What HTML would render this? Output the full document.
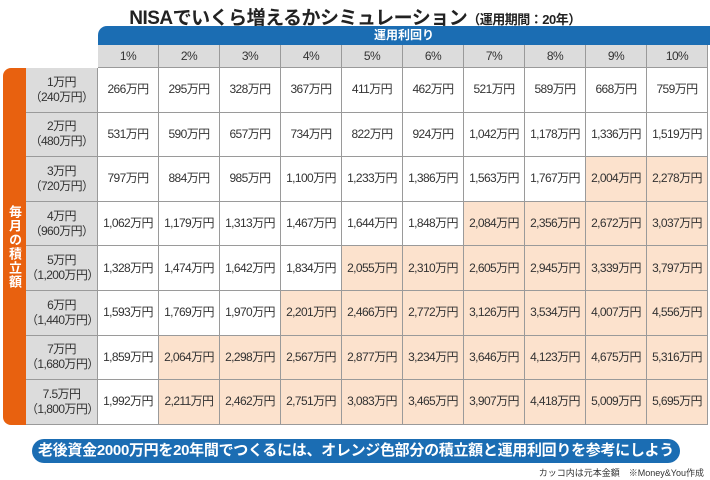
<!DOCTYPE html>
<html><head><meta charset="utf-8"><style>
body{margin:0;width:710px;height:480px;background:#fff;overflow:hidden;font-family:"Liberation Sans","Noto Sans CJK JP",sans-serif;position:relative}
.a{position:absolute;box-sizing:border-box}
.c{display:flex;align-items:center;justify-content:center;text-align:center;color:#333;font-size:12px;letter-spacing:-0.6px;line-height:15px;border-right:1px solid #9a9a9a;border-bottom:1px solid #9a9a9a}
</style></head><body>
<div class="a" style="left:0;top:3px;width:710px;text-align:center;font-size:19px;font-weight:bold;color:#222;letter-spacing:-0.5px">NISAでいくら増えるかシミュレーション<span style="font-size:13px">（運用期間：20年）</span></div>
<div class="a" style="left:98px;top:26px;width:612px;height:19px;background:#1b6db3;border-top-left-radius:9px;color:#fff;font-size:12px;font-weight:bold;text-align:center;line-height:19px">運用利回り</div>
<div class="a" style="left:3px;top:68px;width:23px;height:357px;background:#e8610f;border-radius:8px 0 0 8px;color:#fff;font-size:13px;font-weight:bold;display:flex;align-items:center;justify-content:center;writing-mode:vertical-rl;letter-spacing:1px">毎月の積立額</div>
<div id="grid"></div>
<div class="a" style="left:32px;top:439px;width:648px;height:24px;background:#1b6db3;border-radius:12px;color:#fff;font-size:15px;font-weight:bold;text-align:center;line-height:24px;letter-spacing:-0.3px">老後資金2000万円を20年間でつくるには、オレンジ色部分の積立額と運用利回りを参考にしよう</div>
<div class="a" style="right:6px;top:466px;font-size:9px;color:#333">カッコ内は元本金額　※Money&amp;You作成</div>
<script>
const rates=["1%","2%","3%","4%","5%","6%","7%","8%","9%","10%"];
const monthly=["1万円","2万円","3万円","4万円","5万円","6万円","7万円","7.5万円"];
const principal=["(240万円)","(480万円)","(720万円)","(960万円)","(1,200万円)","(1,440万円)","(1,680万円)","(1,800万円)"];
const r1=[266,295,328,367,411,462,521,589,668,759];
const r2=[531,590,657,734,822,924,1042,1178,1336,1519];
const r3=[797,884,985,1100,1233,1386,1563,1767,2004,2278];
const r4=[1062,1179,1313,1467,1644,1848,2084,2356,2672,3037];
const r5=[1328,1474,1642,1834,2055,2310,2605,2945,3339,3797];
const r6=[1593,1769,1970,2201,2466,2772,3126,3534,4007,4556];
const r7=[1859,2064,2298,2567,2877,3234,3646,4123,4675,5316];
const r8=[1992,2211,2462,2751,3083,3465,3907,4418,5009,5695];
const rows=[r1,r2,r3,r4,r5,r6,r7,r8];
const g=document.getElementById('grid');
const X0=98,CW=61,Y0=68,RH=44.6,HY=45,HH=23;
function cell(x,y,w,h,html,bg){const d=document.createElement('div');d.className='a c';d.style.cssText=`left:${x}px;top:${y}px;width:${w}px;height:${h}px;background:${bg}`;d.innerHTML=html;g.appendChild(d);return d;}
rates.forEach((r,i)=>{const d=cell(X0+i*CW,HY,CW,HH,r,'#dcdcdc');

});
rows.forEach((row,j)=>{
 const y=Y0+j*RH;
 const l=cell(26,y,72,RH,monthly[j]+'<br>'+principal[j].replace('(','（').replace(')','）'),'#dcdcdc');
 
 
 row.forEach((v,i)=>{
  const d=cell(X0+i*CW,y,CW,RH,v.toLocaleString('en-US')+'万円',v>=2000?'#fce2cd':'#fff');
  
  
 });
});
</script>
</body></html>
